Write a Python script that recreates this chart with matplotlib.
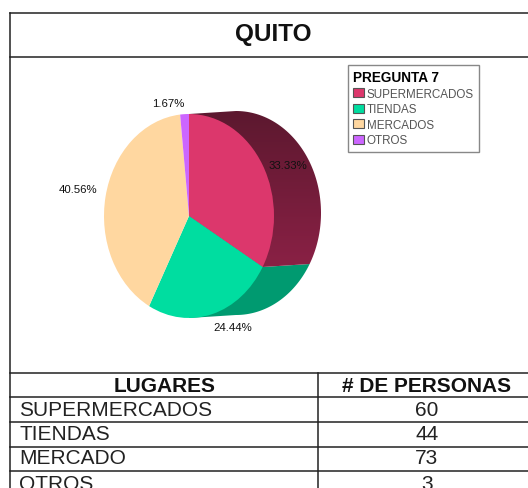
import numpy as np
import matplotlib
matplotlib.use('Agg')
import matplotlib.pyplot as plt
from matplotlib.patches import Polygon, Patch

plt.rcParams['font.family'] = ['Liberation Sans', 'DejaVu Sans']

lugares = ['SUPERMERCADOS', 'TIENDAS', 'MERCADO', 'OTROS']
legendNames = ['SUPERMERCADOS', 'TIENDAS', 'MERCADOS', 'OTROS']
personas = [60, 44, 73, 3]
colors = ['#dc376c', '#00dda0', '#ffd7a0', '#cc66ff']
tableHeader = ['LUGARES', '# DE PERSONAS']
title = 'QUITO'
legendTitle = 'PREGUNTA 7'

W, H = 528, 489
# pie box in pixels and how far the side is pulled out
cx, cy, rx, ry = 189, 217, 85, 102
offX, offY = 47, -3

fig = plt.figure(figsize=(W / 100, H / 100), dpi=100)
bg = fig.add_axes([0, 0, 1, 1])
bg.set_xlim(0, W)
bg.set_ylim(H, 0)
bg.axis('off')


def pieXY(angle, dx=0, dy=0):
    a = np.radians(angle)
    return np.column_stack([cx + dx + rx * np.cos(a), cy + dy - ry * np.sin(a)])


def sidePolygon(a1, a2):
    # arc of the pie pushed sideways, closed back through the centre
    arc = pieXY(np.linspace(a1, a2, 80), offX, offY)
    return np.vstack([[[cx, cy]], pieXY(np.array([a1])), arc, pieXY(np.array([a2]))])


angles = 90 - np.cumsum([0] + personas) / sum(personas) * 360

# dark sides, only the first two slices show it
greenSide = Polygon(sidePolygon(angles[1], -90), facecolor='#009a70', edgecolor='none', zorder=1)
bg.add_patch(greenSide)
redSide = Polygon(sidePolygon(angles[0], angles[1]), facecolor='none', edgecolor='none', zorder=1)
bg.add_patch(redSide)
grad = np.linspace(0, 1, 256).reshape(-1, 1)
cmap = matplotlib.colors.LinearSegmentedColormap.from_list('side', ['#5a182e', '#8c2146'])
img = bg.imshow(grad, cmap=cmap, extent=[cx, cx + rx + offX + 5, 275, 105], aspect='auto', zorder=1)
img.set_clip_path(redSide)
bg.set_xlim(0, W)
bg.set_ylim(H, 0)

ax = fig.add_axes([(cx - rx) / W, (H - cy - ry) / H, 2 * rx / W, 2 * ry / H], zorder=2)
ax.pie(personas, colors=colors, startangle=90, counterclock=False, radius=1)
ax.set_aspect('auto')
ax.set_xlim(-1, 1)
ax.set_ylim(-1, 1)

# percent labels
pct = [100 * p / sum(personas) for p in personas]
labelPos = [(288, 166), (233, 328), (78, 190), (168, 104)]
over = fig.add_axes([0, 0, 1, 1], zorder=3)
over.set_xlim(0, W)
over.set_ylim(H, 0)
over.axis('off')
for p, (x, y) in zip(pct, labelPos):
    over.text(x, y, '%.2f%%' % p, fontsize=8.2, color='#111111', ha='center', va='center')

# frame and table lines
lineColor = '#222222'
lw = 1.1
left, colX, tableTop = 10, 318, 373.5
rowLines = [398, 422.5, 447.5, 471.5]
over.plot([left, left], [13.5, H], color=lineColor, lw=lw)
for y in [13.5, 57.5, tableTop] + rowLines:
    over.plot([left, W], [y, y], color=lineColor, lw=lw)
over.plot([colX, colX], [tableTop, H], color=lineColor, lw=lw)

over.text(273, 34, title, fontsize=17.5, fontweight='bold', color='#111111', ha='center', va='center')
over.text(165, 387, tableHeader[0], fontsize=15, fontweight='bold', color='#111111', ha='center', va='center')
over.text(427, 387, tableHeader[1], fontsize=15, fontweight='bold', color='#111111', ha='center', va='center')
rowY = [411, 435, 459, 484]
for name, n, y in zip(lugares, personas, rowY):
    over.text(19, y, name, fontsize=15, color='#222222', ha='left', va='center')
    over.text(427, y, str(n), fontsize=15, color='#222222', ha='center', va='center')

# legend
handles = [Patch(facecolor=c, edgecolor='#555555', linewidth=0.8) for c in colors]
leg = over.legend(handles, legendNames, title=legendTitle, loc='upper left',
                  bbox_to_anchor=(348 / W, 1 - 66 / H), bbox_transform=over.transAxes,
                  fontsize=8.4, alignment='left', fancybox=False, framealpha=1,
                  edgecolor='#888888', handlelength=0.95, handleheight=0.85, handletextpad=0.2,
                  labelspacing=0.3, borderpad=0.45, borderaxespad=0,
                  title_fontproperties={'weight': 'bold', 'size': 9.8})
leg.get_frame().set_linewidth(1.0)
for t in leg.get_texts():
    t.set_color('#555555')

fig.savefig('out.png', dpi=100)
